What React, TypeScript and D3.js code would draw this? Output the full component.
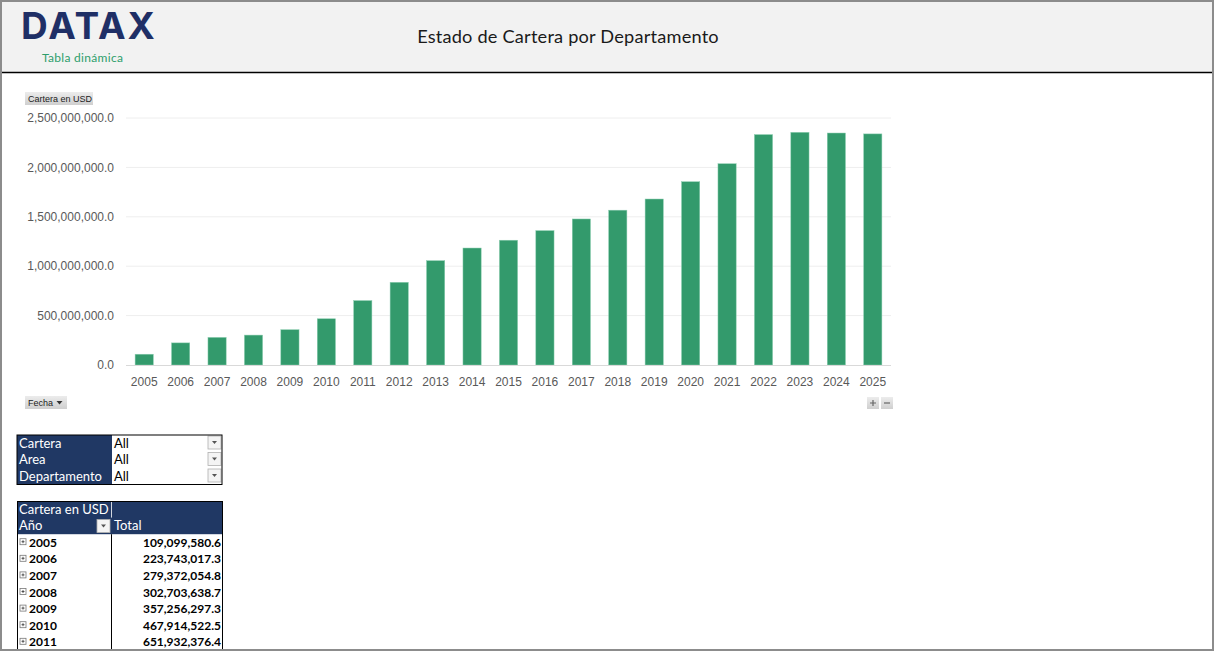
import * as d3 from 'd3';
import * as React from 'react';

const years: string[] = [
  '2005', '2006', '2007', '2008', '2009', '2010', '2011', '2012', '2013', '2014', '2015',
  '2016', '2017', '2018', '2019', '2020', '2021', '2022', '2023', '2024', '2025',
];
const cartera: number[] = [
  109099580.6, 223743017.3, 279372054.8, 302703638.7, 357256297.3, 467914522.5, 651932376.4,
  837000000, 1056000000, 1184000000, 1263000000, 1360000000, 1478000000, 1567000000,
  1680000000, 1855000000, 2037000000, 2332000000, 2355000000, 2348000000, 2339000000,
];
const yTicks: number[] = [0, 500000000, 1000000000, 1500000000, 2000000000, 2500000000];
const filterLabels: string[] = ['Cartera', 'Area', 'Departamento'];
const filterValues: string[] = ['All', 'All', 'All'];

const W = 1214;
const H = 651;
const NAVY = '#203864';
const GREEN = '#339a6c';
const AXIS_FONT = '"Liberation Sans", Arial, sans-serif';
const TABLE_FONT = 'Lato, "Open Sans", sans-serif';

const fmt = d3.format(',.1f');

function DropBtn({ x, y }: { x: number; y: number }) {
  return (
    <g transform={`translate(${x},${y})`}>
      <rect width={13} height={13} fill="#f4f4f4" stroke="#b0b0b0" strokeWidth={0.8} />
      <path d="M4,5 L9,5 L6.5,8 Z" fill="#555" />
    </g>
  );
}

function ExpandIcon({ x, y }: { x: number; y: number }) {
  return (
    <g transform={`translate(${x},${y})`}>
      <rect width={6} height={6} fill="#fff" stroke="#777" strokeWidth={0.8} />
      <path d="M1.5,3 H4.5 M3,1.5 V4.5" stroke="#333" strokeWidth={0.8} />
    </g>
  );
}

export default function App() {
  const left = 126;
  const right = 891;
  const top = 118;
  const bottom = 365;

  const x = d3.scaleBand<string>().domain(years).range([left, right]).paddingInner(0.5).paddingOuter(0.25);
  const y = d3.scaleLinear().domain([0, 2500000000]).range([bottom, top]);

  const rowH = 16.6;
  const pivotTop = 501;
  // solo las filas que caben en la hoja visible
  const visibleRows = years.filter((_, i) => pivotTop + rowH * (2 + i) + 12 < H);

  return (
    <div style={{ position: 'absolute', left: 0, top: 0 }}>
      <svg width={W} height={H} style={{ display: 'block' }}>
        <defs>
          <linearGradient id="btn" x1="0" y1="0" x2="0" y2="1">
            <stop offset="0" stopColor="#ececec" />
            <stop offset="1" stopColor="#cfcfcf" />
          </linearGradient>
          <clipPath id="frame">
            <rect x={2} y={2} width={W - 4} height={H - 4} />
          </clipPath>
        </defs>
        <rect x={0} y={0} width={W} height={H} fill="#fff" />

        <g clipPath="url(#frame)">
          {/* cabecera */}
          <rect x={0} y={0} width={W} height={72} fill="#f2f2f2" />
          <line x1={0} x2={W} y1={72.5} y2={72.5} stroke="#000" strokeWidth={1.4} />
          <text x={21} y={39} fontFamily="Inter, sans-serif" fontWeight={700} fontSize={37}
            fill="#1f2f66" letterSpacing={2}>DATAX</text>
          <text x={42} y={62} fontFamily={TABLE_FONT} fontSize={12} fill="#2e9e6c"
            letterSpacing={0.3}>Tabla dinámica</text>
          <text x={568} y={43} textAnchor="middle" fontFamily={TABLE_FONT} fontSize={18.2}
            fill="#1a1a1a" letterSpacing={0.2}>Estado de Cartera por Departamento</text>

          {/* grafico */}
          <g>
            <rect x={25} y={92} width={68} height={13} fill="url(#btn)" />
            <text x={28} y={102} fontFamily={AXIS_FONT} fontSize={9} fill="#222">Cartera en USD</text>

            {yTicks.map(t => (
              <g key={t}>
                {t > 0 && (
                  <line x1={left} x2={right} y1={y(t)} y2={y(t)} stroke="#eeeeee" strokeWidth={1} />
                )}
                <text x={114} y={y(t)} dy="0.35em" textAnchor="end" fontFamily={AXIS_FONT}
                  fontSize={12} fill="#595959">{fmt(t)}</text>
              </g>
            ))}

            {years.map((yr, i) => (
              <rect key={yr} x={x(yr)} y={y(cartera[i])} width={x.bandwidth()}
                height={bottom - y(cartera[i])} fill={GREEN} stroke="#8ccdb0" strokeWidth={0.5} />
            ))}
            <line x1={left} x2={right} y1={bottom + 0.5} y2={bottom + 0.5} stroke="#d9d9d9" strokeWidth={1} />

            {years.map(yr => (
              <text key={yr} x={(x(yr) as number) + x.bandwidth() / 2} y={386} textAnchor="middle"
                fontFamily={AXIS_FONT} fontSize={12} fill="#595959">{yr}</text>
            ))}

            <rect x={25} y={396} width={42} height={13} fill="url(#btn)" />
            <text x={28} y={406} fontFamily={AXIS_FONT} fontSize={9} fill="#222">Fecha</text>
            <path d="M56.5,401 L62.5,401 L59.5,404.5 Z" fill="#333" />

            <rect x={867} y={397} width={12} height={12} fill="url(#btn)" />
            <path d="M870,403 H876 M873,400 V406" stroke="#666" strokeWidth={1.2} />
            <rect x={881} y={397} width={12} height={12} fill="url(#btn)" />
            <path d="M884,403 H890" stroke="#666" strokeWidth={1.2} />
          </g>

          {/* filtros */}
          <g fontFamily={TABLE_FONT} fontSize={13}>
            <rect x={17} y={435} width={95} height={49.5} fill={NAVY} />
            {filterLabels.map((lab, i) => (
              <g key={lab}>
                <text x={19} y={447.5 + i * 16.5} fill="#fff">{lab}</text>
                <text x={114} y={447.5 + i * 16.5} fill="#000">{filterValues[i]}</text>
                <DropBtn x={208} y={436 + i * 16.5} />
              </g>
            ))}
            <rect x={17} y={435} width={205} height={49.5} fill="none" stroke="#000" strokeWidth={1} />
          </g>

          {/* tabla dinamica */}
          <g fontFamily={TABLE_FONT} fontSize={12}>
            <rect x={17} y={pivotTop} width={205} height={rowH * 2} fill={NAVY} />
            <text x={19} y={pivotTop + 12.5} fill="#fff" fontSize={13}>Cartera en USD</text>
            <line x1={111.5} x2={111.5} y1={pivotTop} y2={pivotTop + rowH} stroke="#fff" strokeWidth={0.8} />
            <text x={19} y={pivotTop + rowH + 12.5} fill="#fff" fontSize={13}>Año</text>
            <DropBtn x={97} y={pivotTop + rowH + 2} />
            <text x={114} y={pivotTop + rowH + 12.5} fill="#fff" fontSize={13}>Total</text>
            {visibleRows.map((yr, i) => {
              const ry = pivotTop + rowH * (2 + i);
              return (
                <g key={yr}>
                  <ExpandIcon x={20} y={ry + 4.5} />
                  <text x={29} y={ry + 12.5} fill="#000" fontWeight={700}>{yr}</text>
                  <text x={221} y={ry + 12.5} textAnchor="end" fill="#000" fontWeight={700}>
                    {fmt(cartera[i])}
                  </text>
                </g>
              );
            })}
            <line x1={111.5} x2={111.5} y1={pivotTop + rowH * 2} y2={H} stroke="#000" strokeWidth={1} />
            <line x1={17.5} x2={17.5} y1={pivotTop} y2={H} stroke="#000" strokeWidth={1} />
            <line x1={222.5} x2={222.5} y1={pivotTop} y2={H} stroke="#000" strokeWidth={1} />
            <line x1={17} x2={223} y1={pivotTop + 0.5} y2={pivotTop + 0.5} stroke="#000" strokeWidth={1} />
          </g>
        </g>

        {/* marco */}
        <rect x={1} y={1} width={W - 2} height={H - 2} fill="none" stroke="#8c8c8c" strokeWidth={2} />
      </svg>
    </div>
  );
}
